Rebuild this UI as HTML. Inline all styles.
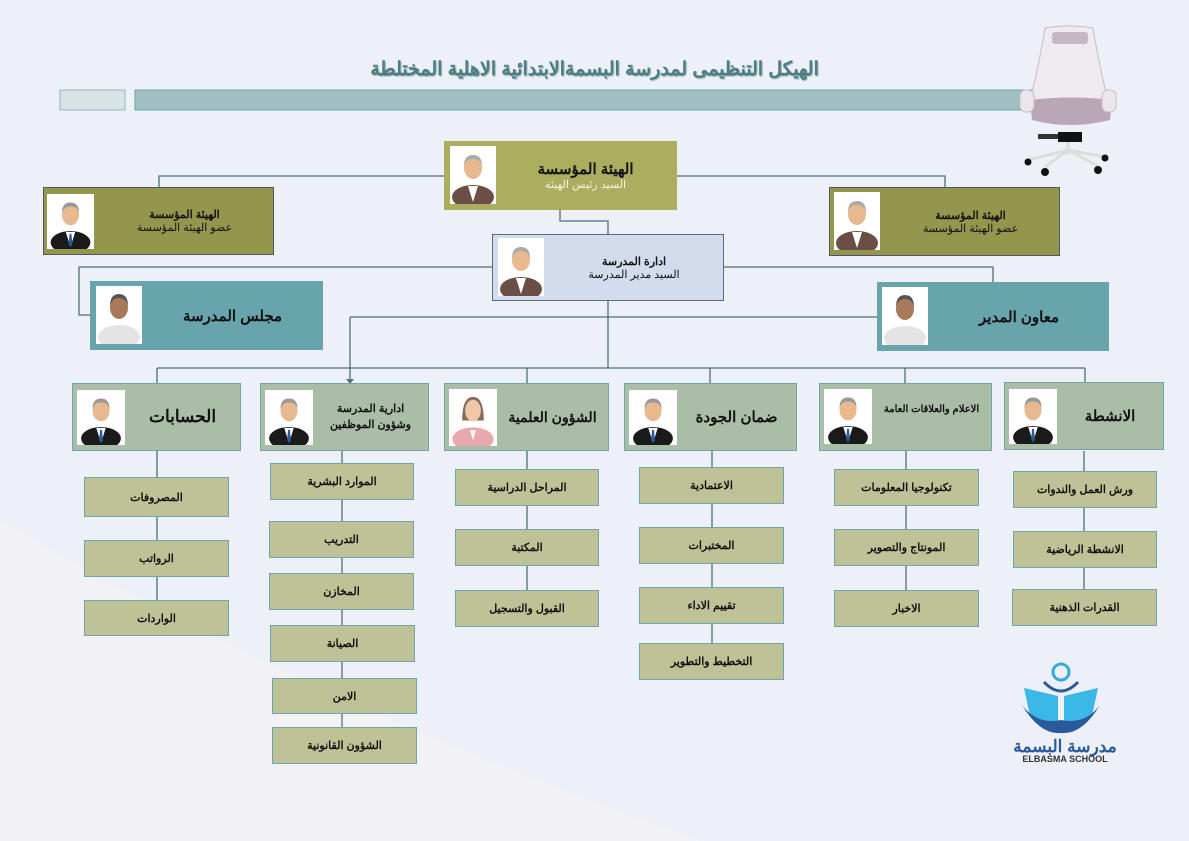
<!DOCTYPE html>
<html><head><meta charset="utf-8"><style>
body{margin:0;width:1189px;height:841px;overflow:hidden;background:#edf0f7;font-family:"Liberation Sans","Noto Sans CJK SC",sans-serif;position:relative}
.b{position:absolute;box-sizing:border-box;display:flex;align-items:center;justify-content:center;text-align:center;direction:rtl;font-weight:bold;color:#111}
.s{background:#bfc296;border:1.5px solid #6fa6ad;font-size:11px}
.h{background:#aabda6;border:1.5px solid #6fa6ad}
.p{position:absolute;background:#fff}
.p svg{width:100%;height:100%;display:block}
</style></head><body>
<svg width="1189" height="841" style="position:absolute;left:0;top:0">
<defs>
<symbol id="suit" viewBox="0 0 46 58"><ellipse cx="23" cy="51" rx="21" ry="12" fill="#1a1a1a"/><path d="M18 40 L23 56 L28 40Z" fill="#fff"/><path d="M22 42 L24 42 L25 53 L23 56 L21 53Z" fill="#2a5a9a"/><ellipse cx="23" cy="22" rx="9" ry="11" fill="#e8b98e"/><path d="M14 20 Q14 9 23 9 Q32 9 32 20 Q30 13 23 13 Q16 13 14 20Z" fill="#999"/></symbol>
<symbol id="old" viewBox="0 0 46 58"><ellipse cx="23" cy="51" rx="21" ry="12" fill="#6b4e45"/><path d="M18 40 L23 56 L28 40Z" fill="#fff"/><ellipse cx="23" cy="22" rx="9" ry="11" fill="#e8b98e"/><path d="M14 20 Q14 9 23 9 Q32 9 32 20 Q30 13 23 13 Q16 13 14 20Z" fill="#aaa"/></symbol>
<symbol id="young" viewBox="0 0 46 58"><ellipse cx="23" cy="51" rx="21" ry="12" fill="#e4e4e4"/><ellipse cx="23" cy="22" rx="9" ry="11" fill="#a8795a"/><path d="M14 20 Q14 8 23 8 Q32 8 32 20 Q30 12 23 12 Q16 12 14 20Z" fill="#555"/></symbol>
<symbol id="fem" viewBox="0 0 46 58"><ellipse cx="23" cy="51" rx="21" ry="12" fill="#e8a8ae"/><path d="M20 42 L23 52 L26 42Z" fill="#fff"/><path d="M12 32 Q12 8 23 8 Q34 8 34 32Z" fill="#8a6a5a"/><ellipse cx="23" cy="22" rx="8" ry="11" fill="#f0c7a8"/></symbol>
</defs>
<path d="M0 520 Q300 700 700 841 L0 841Z" fill="#f3f3f5" opacity="0.8"/>
<g fill="none" stroke="#4e7078" stroke-width="1.3">
<path d="M444 176 H159 V187 M677 176 H945 V187"/>
<path d="M560 210 V221 H608 V234"/>
<path d="M492 267 H79 V315 H90 M724 267 H993 V282"/>
<path d="M608 301 V368 M350 317 H877 M350 317 V380"/>
<path d="M157 368 H1085 M157 368 V383 M527 368 V383 M710 368 V383 M905 368 V383 M1085 368 V383"/>
<path d="M157 451 V600 M342 451 V727 M527 451 V590 M712 451 V643 M906 451 V590 M1084 451 V589"/>
</g>
<path d="M346 379 L354 379 L350 384Z" fill="#4e7078"/>
<rect x="60" y="90" width="65" height="20" fill="#d8e3e4" stroke="#8fb8bc"/>
<rect x="135" y="90" width="900" height="20" fill="#a0bfc3" stroke="#6fa6ad"/>
<!-- chair -->
<g>
<path d="M1045 28 Q1068 24 1093 28 Q1100 70 1108 100 L1030 100 Q1038 70 1045 28Z" fill="#efe9f0" stroke="#c9bcc8"/>
<rect x="1052" y="32" width="36" height="12" rx="3" fill="#c6b7c5"/>
<path d="M1030 100 Q1070 95 1112 100 L1110 120 Q1070 130 1032 120Z" fill="#b9a7b6"/>
<rect x="1020" y="90" width="14" height="22" rx="6" fill="#ece6ec" stroke="#c9bcc8"/>
<rect x="1102" y="90" width="14" height="22" rx="6" fill="#ece6ec" stroke="#c9bcc8"/>
<rect x="1058" y="132" width="24" height="10" fill="#111"/><rect x="1038" y="134" width="20" height="5" fill="#333"/>
<path d="M1068 142 V155 M1068 150 L1028 160 M1068 150 L1045 167 M1068 150 L1098 166 M1068 150 L1105 157" stroke="#ddd" stroke-width="3"/>
<circle cx="1028" cy="162" r="3.5" fill="#111"/><circle cx="1045" cy="172" r="4" fill="#111"/><circle cx="1098" cy="170" r="4" fill="#111"/><circle cx="1105" cy="158" r="3.5" fill="#111"/>
</g>
<!-- logo -->
<g>
<circle cx="1061" cy="672" r="8" fill="none" stroke="#3aa8d8" stroke-width="3"/>
<path d="M1024 688 L1058 696 L1058 725 L1030 716Z M1098 688 L1064 696 L1064 725 L1092 716Z" fill="#3ab8e8"/>
<path d="M1022 705 Q1040 735 1061 733 Q1082 735 1100 705 Q1085 725 1061 720 Q1037 725 1022 705Z" fill="#2a5a9a"/>
<path d="M1044 682 Q1061 700 1078 682" fill="none" stroke="#2a5a9a" stroke-width="3"/>
</g>
</svg>
<div style="position:absolute;left:0;width:1189px;top:58px;text-align:center;direction:rtl;font-size:19px;font-weight:bold;color:#4d7d83;text-shadow:1px 1px 1px #8aa">الهيكل التنظيمى لمدرسة البسمةالابتدائية الاهلية المختلطة</div>
<div style="position:absolute;left:1010px;width:110px;top:737px;text-align:center;color:#2a5a9a;font-size:17px;font-weight:bold;direction:rtl">مدرسة البسمة</div>
<div style="position:absolute;left:1010px;width:110px;top:754px;text-align:center;color:#333;font-size:9px;font-weight:bold">ELBASMA SCHOOL</div>

<div class="b" style="left:444px;top:141px;width:233px;height:69px;background:#aaae5e;flex-direction:column;padding-left:50px"><div style="font-size:15px">الهيئة المؤسسة</div><div style="font-size:11px;color:#f4f4e0;font-weight:normal">السيد رئيس الهيئة</div></div>
<div class="p" style="left:450px;top:146px;width:46px;height:58px"><svg><use href="#old"/></svg></div>

<div class="b" style="left:43px;top:187px;width:231px;height:68px;background:#93974e;border:1px solid #556;flex-direction:column;padding-left:52px;font-size:11px"><div>الهيئة المؤسسة</div><div style="font-weight:normal">عضو الهيئة المؤسسة</div></div>
<div class="p" style="left:47px;top:194px;width:47px;height:55px"><svg><use href="#suit"/></svg></div>

<div class="b" style="left:829px;top:187px;width:231px;height:69px;background:#93974e;border:1px solid #556;flex-direction:column;padding-left:52px;font-size:11px"><div>الهيئة المؤسسة</div><div style="font-weight:normal">عضو الهيئة المؤسسة</div></div>
<div class="p" style="left:834px;top:192px;width:46px;height:58px"><svg><use href="#old"/></svg></div>

<div class="b" style="left:492px;top:234px;width:232px;height:67px;background:#d3dcec;border:1px solid #5a6a80;flex-direction:column;padding-left:52px;font-size:11px"><div>ادارة المدرسة</div><div style="font-weight:normal">السيد مدير المدرسة</div></div>
<div class="p" style="left:498px;top:238px;width:46px;height:58px"><svg><use href="#old"/></svg></div>

<div class="b" style="left:90px;top:281px;width:233px;height:69px;background:#68a4ab;padding-left:52px;font-size:15px">مجلس المدرسة</div>
<div class="p" style="left:96px;top:286px;width:46px;height:58px"><svg><use href="#young"/></svg></div>

<div class="b" style="left:877px;top:282px;width:232px;height:69px;background:#68a4ab;padding-left:52px;font-size:15px">معاون المدير</div>
<div class="p" style="left:882px;top:287px;width:46px;height:58px"><svg><use href="#young"/></svg></div>

<div class="b h" style="left:72px;top:383px;width:169px;height:68px;padding-left:52px;font-size:17px">الحسابات</div>
<div class="p" style="left:77px;top:390px;width:48px;height:55px"><svg><use href="#suit"/></svg></div>
<div class="b h" style="left:260px;top:383px;width:169px;height:68px;padding-left:52px;font-size:11px;line-height:16px">ادارية المدرسة<br>وشؤون الموظفين</div>
<div class="p" style="left:265px;top:390px;width:48px;height:55px"><svg><use href="#suit"/></svg></div>
<div class="b h" style="left:444px;top:383px;width:165px;height:68px;padding-left:52px;font-size:14px">الشؤون العلمية</div>
<div class="p" style="left:449px;top:389px;width:48px;height:57px"><svg><use href="#fem"/></svg></div>
<div class="b h" style="left:624px;top:383px;width:173px;height:68px;padding-left:52px;font-size:15px">ضمان الجودة</div>
<div class="p" style="left:629px;top:390px;width:48px;height:55px"><svg><use href="#suit"/></svg></div>
<div class="b h" style="left:819px;top:383px;width:173px;height:68px;padding-left:52px;font-size:10px;align-items:flex-start;padding-top:20px">الاعلام والعلاقات العامة</div>
<div class="p" style="left:824px;top:389px;width:48px;height:55px"><svg><use href="#suit"/></svg></div>
<div class="b h" style="left:1004px;top:382px;width:160px;height:68px;padding-left:52px;font-size:15px">الانشطة</div>
<div class="p" style="left:1009px;top:389px;width:48px;height:55px"><svg><use href="#suit"/></svg></div>

<div class="b s" style="left:84px;top:477px;width:145px;height:40px">المصروفات</div>
<div class="b s" style="left:84px;top:540px;width:145px;height:37px">الرواتب</div>
<div class="b s" style="left:84px;top:600px;width:145px;height:36px">الواردات</div>

<div class="b s" style="left:270px;top:463px;width:144px;height:37px">الموارد البشرية</div>
<div class="b s" style="left:269px;top:521px;width:145px;height:37px">التدريب</div>
<div class="b s" style="left:269px;top:573px;width:145px;height:37px">المخازن</div>
<div class="b s" style="left:270px;top:625px;width:145px;height:37px">الصيانة</div>
<div class="b s" style="left:272px;top:678px;width:145px;height:36px">الامن</div>
<div class="b s" style="left:272px;top:727px;width:145px;height:37px">الشؤون القانونية</div>

<div class="b s" style="left:455px;top:469px;width:144px;height:37px">المراحل الدراسية</div>
<div class="b s" style="left:455px;top:529px;width:144px;height:37px">المكتبة</div>
<div class="b s" style="left:455px;top:590px;width:144px;height:37px">القبول والتسجيل</div>

<div class="b s" style="left:639px;top:467px;width:145px;height:37px">الاعتمادية</div>
<div class="b s" style="left:639px;top:527px;width:145px;height:37px">المختبرات</div>
<div class="b s" style="left:639px;top:587px;width:145px;height:37px">تقييم الاداء</div>
<div class="b s" style="left:639px;top:643px;width:145px;height:37px">التخطيط والتطوير</div>

<div class="b s" style="left:834px;top:469px;width:145px;height:37px">تكنولوجيا المعلومات</div>
<div class="b s" style="left:834px;top:529px;width:145px;height:37px">المونتاج والتصوير</div>
<div class="b s" style="left:834px;top:590px;width:145px;height:37px">الاخبار</div>

<div class="b s" style="left:1013px;top:471px;width:144px;height:37px">ورش العمل والندوات</div>
<div class="b s" style="left:1013px;top:531px;width:144px;height:37px">الانشطة الرياضية</div>
<div class="b s" style="left:1012px;top:589px;width:145px;height:37px">القدرات الذهنية</div>
</body></html>
